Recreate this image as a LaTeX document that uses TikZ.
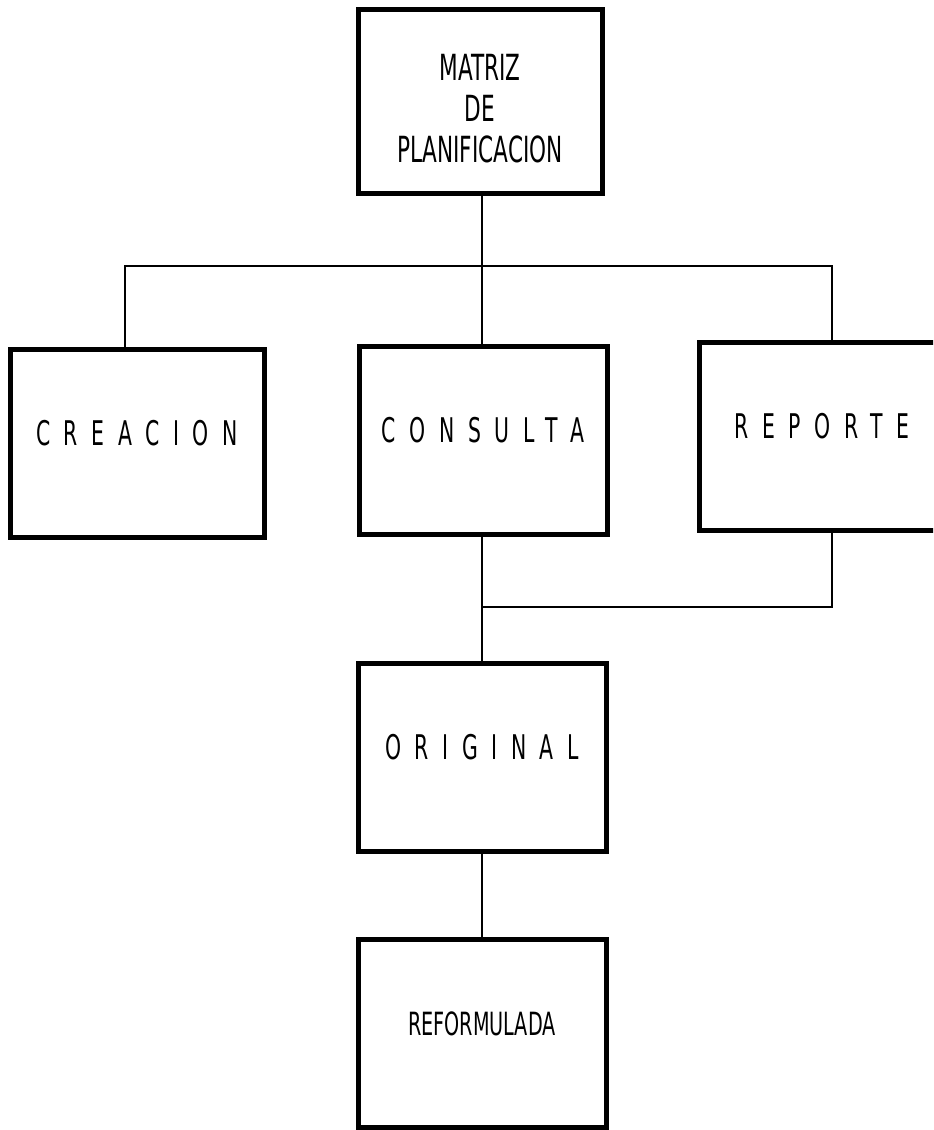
\documentclass[tikz,border=0pt]{standalone}
\usepackage{fontspec}
\setmainfont{DejaVu Sans}[FakeStretch=0.6]
\tikzset{
  box/.style={draw, line width=2.5pt, rectangle, minimum width=124pt, minimum height=94pt,
    inner sep=0pt, font=\fontsize{17pt}{20pt}\selectfont, text height=12.4pt, text depth=10pt},
  wide/.style={font=\fontsize{17pt}{20pt}\selectfont\addfontfeature{LetterSpace=40}},
  wire/.style={line width=1pt}
}
\begin{document}
\begin{tikzpicture}[x=0.5pt,y=-0.5pt]
        \clip (0,0) rectangle (933,1130);

        \node[box, minimum width=122pt, minimum height=92pt, text height=, text depth=,
              font=\fontsize{18pt}{20.5pt}\selectfont] (matriz) at (480,101)
              {\raisebox{-6pt}[\height][\depth]{\begin{tabular}{@{}c@{}}MATRIZ\\DE\\PLANIFICACION\end{tabular}}};
        \node[box, wide, minimum width=127pt] (creacion) at (137,443) {CREACION};
        \node[box, wide] (consulta) at (483,440) {CONSULTA};
        \node[box, wide, minimum width=123pt] (reporte) at (822,436) {REPORTE};
        \node[box, wide] (original) at (482,757) {ORIGINAL};
        \node[box, font=\fontsize{16pt}{20pt}\selectfont] (reformulada) at (482,1033) {REFORMULADA};

        \coordinate (bar) at (482,266);
        \coordinate (join) at (482,607);

        \draw[wire] (matriz.south -| bar) -- (consulta.north -| bar);
        \draw[wire] (creacion.north -| 125,0) |- (bar) -| (reporte.north -| 832,0);
        \draw[wire] (consulta.south -| join) -- (original.north -| join);
        \draw[wire] (reporte.south -| 832,0) |- (join);
        \draw[wire] (original) -- (reformulada);
\end{tikzpicture}
\end{document}
